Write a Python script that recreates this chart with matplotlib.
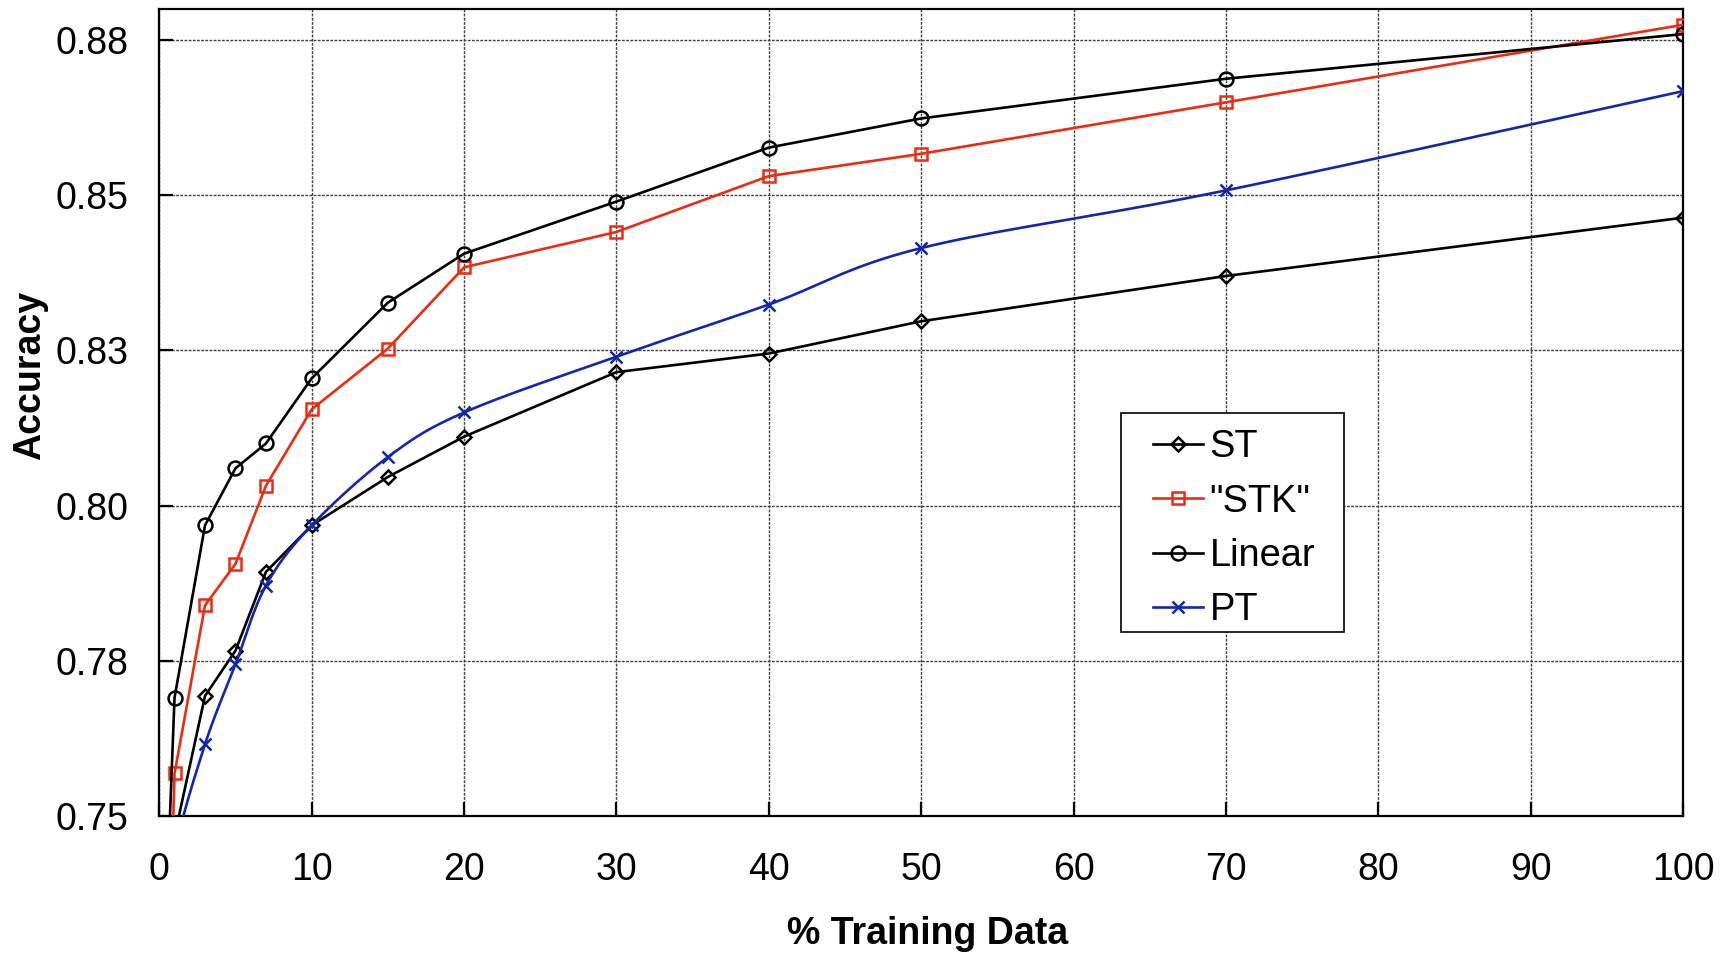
import numpy as np
import matplotlib.pyplot as plt
from matplotlib.patches import Rectangle

plt.rcParams['font.family'] = ['Liberation Sans', 'DejaVu Sans']

# % training data
x_pct = [0.5, 1, 3, 5, 7, 10, 15, 20, 30, 40, 50, 70, 100]

# accuracy values
acc_st = [0.735, 0.7467, 0.7693, 0.7766, 0.7893, 0.7968, 0.8046, 0.8111,
          0.8215, 0.8245, 0.8297, 0.837, 0.8464]
acc_stk = [0.714, 0.7568, 0.7839, 0.7906, 0.8032, 0.8155, 0.8253, 0.8384,
           0.8441, 0.8531, 0.8567, 0.865, 0.8775]
acc_linear = [0.7373, 0.769, 0.7968, 0.806, 0.810, 0.8205, 0.8327, 0.8406,
              0.849, 0.8577, 0.8624, 0.8688, 0.876]
acc_pt = [0.730, 0.744, 0.7615, 0.7744, 0.7871, 0.7968, 0.8078, 0.815,
          0.824, 0.8324, 0.8415, 0.8508, 0.8668]

y_ticks = [0.75, 0.775, 0.8, 0.825, 0.85, 0.875]
y_tick_labels = ['0.75', '0.78', '0.80', '0.83', '0.85', '0.88']
x_ticks = [0, 10, 20, 30, 40, 50, 60, 70, 80, 90, 100]

RED = '#ee2a10'
BLUE = '#1228aa'


def smooth(xs, ys, xr=100.0, yr=0.13, n=20):
    # catmull-rom through the points (done in scaled coords, like a smoothed excel line)
    p = np.column_stack([np.asarray(xs) / xr, np.asarray(ys) / yr * 0.53])
    p = np.vstack([2 * p[0] - p[1], p, 2 * p[-1] - p[-2]])
    out = []
    t = np.linspace(0, 1, n, endpoint=False)[:, None]
    for i in range(1, len(p) - 2):
        p0, p1, p2, p3 = p[i - 1], p[i], p[i + 1], p[i + 2]
        seg = 0.5 * ((2 * p1) + (-p0 + p2) * t + (2 * p0 - 5 * p1 + 4 * p2 - p3) * t ** 2
                     + (-p0 + 3 * p1 - 3 * p2 + p3) * t ** 3)
        out.append(seg)
    out.append(p[-2][None, :])
    out = np.vstack(out)
    return out[:, 0] * xr, out[:, 1] / 0.53 * yr


fig = plt.figure(figsize=(8.62, 4.785), dpi=200)
ax = fig.add_axes([0.0924, 0.1477, 0.8838, 0.8426])

lw = 0.95
ax.plot(x_pct, acc_st, color='black', lw=lw, marker='D', ms=3.6, mfc='none',
        mec='black', mew=0.9, label='ST', zorder=3)
ax.plot(x_pct, acc_stk, color=RED, lw=lw, marker='s', ms=4.6, mfc='none',
        mec=RED, mew=0.9, label='"STK"', zorder=3)
ax.plot(x_pct, acc_linear, color='black', lw=lw, marker='o', ms=5.0, mfc='none',
        mec='black', mew=0.9, label='Linear', zorder=3)

sx, sy = smooth(x_pct, acc_pt)
ax.plot(sx, sy, color=BLUE, lw=lw, zorder=3)
ax.plot(x_pct, acc_pt, color=BLUE, lw=0, marker='x', ms=4.6, mew=0.9, zorder=3)
ax.plot([], [], color=BLUE, lw=lw, marker='x', ms=4.6, mew=0.9, label='PT')

ax.set_xlim(0, 100)
ax.set_ylim(0.75, 0.88)
ax.set_xticks(x_ticks)
ax.set_yticks(y_ticks)
ax.set_yticklabels(y_tick_labels)
ax.tick_params(axis='both', direction='in', length=5, width=0.8, labelsize=13.5,
               top=False, right=False)
ax.tick_params(axis='y', pad=11)
ax.tick_params(axis='x', pad=13)

ax.grid(True, color='0.25', lw=0.5, linestyle=(0, (2, 1)))
for sp in ax.spines.values():
    sp.set_linewidth(0.8)
    sp.set_color('black')

ax.set_xlabel('% Training Data', fontsize=13.5, fontweight='bold')
ax.set_ylabel('Accuracy', fontsize=13.5, fontweight='bold')
ax.xaxis.set_label_coords(0.504, -0.125)
ax.yaxis.set_label_coords(-0.073, 0.5465)

# legend box drawn separately so the padding can differ per side
ax.add_patch(Rectangle((0.6315, 0.2276), 0.7773 - 0.6315, 0.4989 - 0.2276,
                       transform=ax.transAxes, facecolor='white', edgecolor='black',
                       lw=0.6, zorder=4))
leg = ax.legend(loc='upper left', bbox_to_anchor=(0.6525, 0.479), borderaxespad=0,
                fontsize=13.7, handlelength=1.3, handletextpad=0.17,
                borderpad=0, labelspacing=0.48, frameon=False)
leg.set_zorder(5)

fig.savefig('out.png', dpi=200)
